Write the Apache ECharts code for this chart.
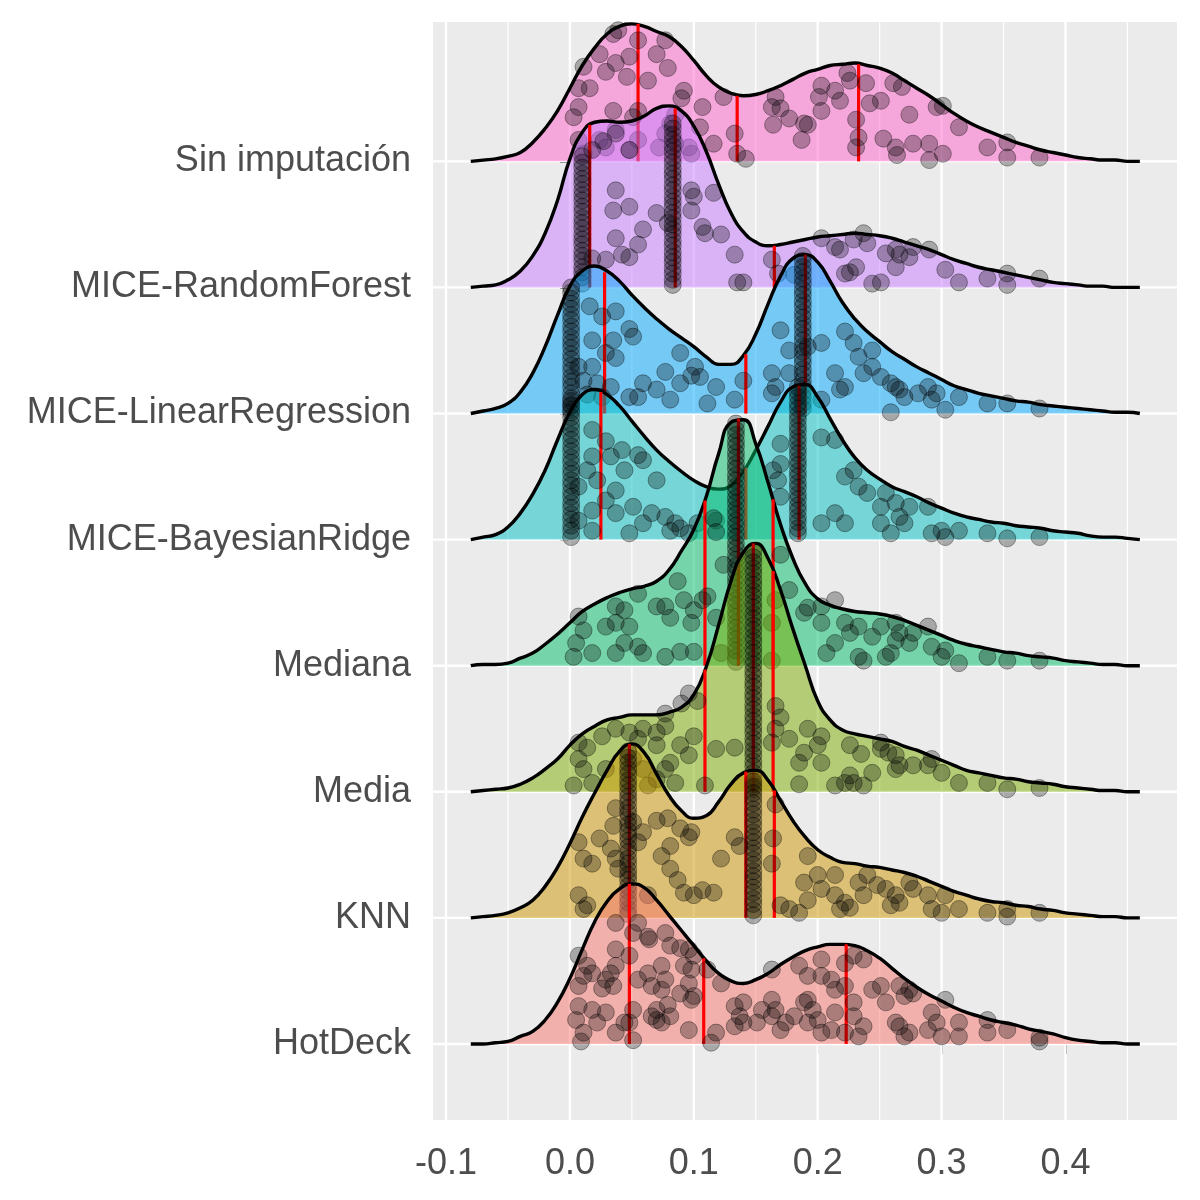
<!DOCTYPE html>
<html>
<head>
<meta charset="utf-8">
<script src="https://cdn.jsdelivr.net/npm/echarts@6/dist/echarts.min.js"></script>
<style>html,body{margin:0;background:#fff}#main{width:1200px;height:1200px}</style>
</head>
<body>
<div id="main"></div>
<script>
// filas de abajo hacia arriba
var categories = ['HotDeck', 'KNN', 'Media', 'Mediana', 'MICE-BayesianRidge', 'MICE-LinearRegression', 'MICE-RandomForest', 'Sin imputación'];
var colors = ['#F8766D', '#CD9600', '#7CAE00', '#00BE67', '#00BFC4', '#00A9FF', '#C77CFF', '#FF61CC'];

var xTicks = [-0.1, 0, 0.1, 0.2, 0.3, 0.4];
var xMinor = [-0.05, 0.05, 0.15, 0.25, 0.35, 0.45];

// rejilla x de las densidades
var xs = [-0.08, -0.07, -0.06, -0.05, -0.04, -0.03, -0.02, -0.01,
  0, 0.01, 0.02, 0.03, 0.04, 0.05, 0.06, 0.07, 0.08, 0.09,
  0.10, 0.11, 0.12, 0.13, 0.14, 0.15, 0.16, 0.17, 0.18, 0.19,
  0.20, 0.21, 0.22, 0.23, 0.24, 0.25, 0.26, 0.27, 0.28, 0.29,
  0.30, 0.31, 0.32, 0.33, 0.34, 0.35, 0.36, 0.37, 0.38, 0.39,
  0.40, 0.41, 0.42, 0.43, 0.44, 0.45, 0.46];

// alturas de densidad (en filas)
var densSin = [0, 0.01, 0.02, 0.04, 0.07, 0.15, 0.26, 0.40,
  0.58, 0.76, 0.90, 1.01, 1.07, 1.09, 1.07, 1.03, 0.99, 0.91,
  0.80, 0.68, 0.59, 0.54, 0.52, 0.53, 0.56, 0.60, 0.65, 0.70,
  0.73, 0.76, 0.77, 0.78, 0.76, 0.74, 0.70, 0.64, 0.58, 0.52,
  0.45, 0.38, 0.32, 0.27, 0.23, 0.19, 0.15, 0.12, 0.09, 0.07,
  0.05, 0.03, 0.02, 0.01, 0.01, 0, 0];
var densForest = [0, 0.01, 0.02, 0.06, 0.13, 0.25, 0.43, 0.69,
  1.02, 1.23, 1.31, 1.32, 1.31, 1.32, 1.36, 1.42, 1.44, 1.40,
  1.28, 1.08, 0.82, 0.59, 0.44, 0.36, 0.33, 0.34, 0.36, 0.38,
  0.40, 0.41, 0.42, 0.43, 0.42, 0.41, 0.39, 0.36, 0.33, 0.30,
  0.26, 0.22, 0.19, 0.16, 0.14, 0.12, 0.10, 0.08, 0.06, 0.04,
  0.03, 0.02, 0.01, 0.01, 0, 0, 0];
var densLinear = [0, 0.02, 0.04, 0.08, 0.17, 0.32, 0.53, 0.78,
  1.01, 1.13, 1.17, 1.13, 1.05, 0.94, 0.84, 0.75, 0.67, 0.60,
  0.53, 0.45, 0.39, 0.39, 0.46, 0.63, 0.87, 1.09, 1.23, 1.26,
  1.20, 1.05, 0.88, 0.75, 0.65, 0.57, 0.49, 0.43, 0.37, 0.32,
  0.27, 0.22, 0.19, 0.16, 0.14, 0.12, 0.10, 0.09, 0.07, 0.06,
  0.05, 0.04, 0.03, 0.02, 0.01, 0.01, 0];
var densBayes = [0, 0.02, 0.04, 0.10, 0.21, 0.36, 0.55, 0.79,
  1.01, 1.15, 1.19, 1.15, 1.06, 0.94, 0.82, 0.71, 0.62, 0.54,
  0.47, 0.42, 0.40, 0.43, 0.54, 0.71, 0.90, 1.09, 1.21, 1.23,
  1.13, 0.96, 0.79, 0.65, 0.55, 0.48, 0.42, 0.38, 0.34, 0.29,
  0.25, 0.21, 0.18, 0.16, 0.14, 0.13, 0.11, 0.10, 0.09, 0.07,
  0.06, 0.05, 0.03, 0.02, 0.02, 0.01, 0];
var densMediana = [0, 0.01, 0.01, 0.02, 0.06, 0.10, 0.17, 0.25,
  0.34, 0.43, 0.49, 0.54, 0.58, 0.61, 0.63, 0.67, 0.76, 0.91,
  1.08, 1.34, 1.68, 1.93, 1.95, 1.76, 1.45, 1.12, 0.85, 0.65,
  0.53, 0.48, 0.45, 0.43, 0.42, 0.41, 0.39, 0.36, 0.32, 0.28,
  0.24, 0.20, 0.17, 0.15, 0.13, 0.11, 0.10, 0.08, 0.07, 0.06,
  0.04, 0.03, 0.02, 0.01, 0.01, 0, 0];
var densMedia = [0, 0.01, 0.02, 0.03, 0.06, 0.11, 0.18, 0.26,
  0.37, 0.46, 0.52, 0.57, 0.59, 0.61, 0.61, 0.61, 0.63, 0.67,
  0.77, 0.99, 1.32, 1.67, 1.90, 1.97, 1.85, 1.60, 1.29, 1.00,
  0.72, 0.57, 0.49, 0.46, 0.44, 0.42, 0.40, 0.36, 0.33, 0.29,
  0.25, 0.21, 0.17, 0.15, 0.13, 0.11, 0.10, 0.08, 0.07, 0.06,
  0.04, 0.03, 0.02, 0.01, 0.01, 0, 0];
var densKNN = [0, 0.01, 0.02, 0.04, 0.08, 0.14, 0.25, 0.40,
  0.59, 0.80, 0.99, 1.17, 1.32, 1.38, 1.31, 1.14, 0.97, 0.85,
  0.79, 0.81, 0.92, 1.06, 1.15, 1.17, 1.09, 0.93, 0.77, 0.64,
  0.54, 0.48, 0.44, 0.43, 0.41, 0.40, 0.38, 0.36, 0.33, 0.29,
  0.25, 0.21, 0.18, 0.15, 0.13, 0.12, 0.10, 0.09, 0.07, 0.06,
  0.04, 0.03, 0.02, 0.01, 0.01, 0, 0];
var densHotDeck = [0, 0, 0.01, 0.02, 0.06, 0.10, 0.19, 0.33,
  0.52, 0.75, 0.97, 1.13, 1.23, 1.27, 1.24, 1.14, 1.02, 0.90,
  0.78, 0.66, 0.56, 0.50, 0.48, 0.51, 0.56, 0.63, 0.69, 0.74,
  0.77, 0.79, 0.79, 0.78, 0.74, 0.68, 0.60, 0.52, 0.45, 0.39,
  0.34, 0.29, 0.25, 0.22, 0.19, 0.17, 0.15, 0.12, 0.10, 0.08,
  0.05, 0.03, 0.02, 0.01, 0.01, 0, 0];

// cuartiles: [x, altura de la curva]
var qSin = [[0.055, 1.09], [0.135, 0.52], [0.233, 0.77]];
var qForest = [[0.016, 1.29], [0.085, 1.42], [0.165, 0.33]];
var qLinear = [[0.028, 1.12], [0.142, 0.47], [0.190, 1.26]];
var qBayes = [[0.025, 1.17], [0.142, 0.57], [0.185, 1.22]];
var qMediana = [[0.109, 1.31], [0.136, 1.96], [0.164, 1.32]];
var qMedia = [[0.109, 0.97], [0.148, 1.97], [0.164, 1.75]];
var qKNN = [[0.048, 1.38], [0.142, 1.16], [0.165, 1.01]];
var qHotDeck = [[0.048, 1.27], [0.108, 0.68], [0.223, 0.79]];

// puntos: [x, altura sobre la linea base]
var ptsSin = [[0.035,1.01],[0.055,0.96],[0.077,0.96],[0.070,0.85],[0.048,0.83],[0.037,0.78],[0.024,0.85],[0.011,0.75],[0.007,0.58],[0.016,0.58],
  [0.029,0.71],[0.046,0.67],[0.063,0.64],[0.079,0.74],[0.092,0.56],[0.090,0.50],[0.107,0.43],[0.124,0.51],[0.116,0.14],[0.133,0.22],
  [0.135,0.06],[0.142,0.02],[0.105,0.27],[0.085,0.37],[0.081,0.30],[0.077,0.22],[0.096,0.11],[0.098,0.06],[0.055,0.40],[0.051,0.35],
  [0.035,0.40],[0.037,0.25],[0.024,0.17],[0.029,0.11],[0.007,0.17],[0.003,0.35],[0.007,0.43],[0.011,0.06],[0.048,0.09],[0.055,0.17],
  [0.072,0.11],[0.085,0.14],[0.163,0.43],[0.166,0.51],[0.170,0.42],[0.164,0.29],[0.177,0.34],[0.189,0.30],[0.192,0.29],[0.187,0.17],
  [0.203,0.60],[0.214,0.56],[0.218,0.48],[0.203,0.40],[0.201,0.51],[0.224,0.70],[0.239,0.62],[0.226,0.64],[0.242,0.46],[0.251,0.48],
  [0.261,0.62],[0.268,0.59],[0.231,0.33],[0.233,0.19],[0.231,0.11],[0.253,0.18],[0.263,0.11],[0.264,0.05],[0.277,0.14],[0.290,0.14],
  [0.290,0.01],[0.301,0.06],[0.296,0.43],[0.301,0.44],[0.314,0.27],[0.274,0.37],[0.337,0.11],[0.353,0.15],[0.353,0.03],[0.379,0.03],[0.039,1.04]];
var ptsForest = [[0.037,0.77],[0.035,0.61],[0.048,0.64],[0.070,0.59],[0.079,0.51],[0.059,0.46],[0.055,0.34],[0.037,0.39],[0.042,0.26],[0.048,0.24],
  [0.029,0.22],[0.018,0.23],[0.098,0.77],[0.100,0.72],[0.116,0.75],[0.098,0.61],[0.107,0.48],[0.109,0.43],[0.122,0.42],[0.133,0.26],
  [0.140,0.04],[0.135,0.04],[0.163,0.22],[0.168,0.11],[0.203,0.39],[0.214,0.32],[0.218,0.30],[0.229,0.38],[0.237,0.43],[0.240,0.35],
  [0.255,0.27],[0.263,0.30],[0.266,0.26],[0.274,0.24],[0.277,0.32],[0.290,0.30],[0.263,0.16],[0.251,0.04],[0.244,0.03],[0.226,0.12],
  [0.231,0.16],[0.222,0.11],[0.303,0.14],[0.314,0.04],[0.337,0.07],[0.353,0.11],[0.353,0.02],[0.379,0.07],[0.181,0.10],
  [0.037,1.22],[0.048,1.09],[0.027,1.16],[0.018,1.09]];
var ptsLinear = [[0.016,0.85],[0.026,0.77],[0.037,0.81],[0.048,0.67],[0.051,0.61],[0.035,0.58],[0.018,0.58],[0.029,0.48],[0.037,0.44],[0.018,0.37],
  [0.007,0.37],[0.011,0.26],[0.022,0.24],[0.033,0.21],[0.014,0.15],[0.026,0.13],[0.048,0.13],[0.059,0.24],[0.055,0.13],[0.070,0.19],
  [0.081,0.11],[0.077,0.33],[0.089,0.48],[0.089,0.24],[0.101,0.37],[0.098,0.30],[0.105,0.29],[0.118,0.21],[0.111,0.08],[0.133,0.11],
  [0.140,0.26],[0.163,0.32],[0.166,0.21],[0.163,0.16],[0.170,0.66],[0.177,0.50],[0.192,0.53],[0.203,0.56],[0.222,0.65],[0.229,0.56],
  [0.244,0.50],[0.233,0.45],[0.237,0.32],[0.251,0.29],[0.259,0.24],[0.266,0.19],[0.270,0.13],[0.281,0.16],[0.289,0.21],[0.292,0.11],
  [0.303,0.03],[0.296,0.16],[0.314,0.13],[0.337,0.08],[0.353,0.08],[0.379,0.04],[0.259,0.01],[0.214,0.32],[0.218,0.19],[0.203,0.11],
  [0.177,0.32],[0.222,0.21],[0.244,0.37],[0.263,0.21]];
var ptsBayes = [[0.018,0.87],[0.029,0.78],[0.033,0.66],[0.042,0.71],[0.055,0.67],[0.018,0.66],[0.014,0.55],[0.022,0.47],[0.037,0.39],[0.029,0.31],
  [0.018,0.23],[0.007,0.15],[0.018,0.07],[0.048,0.05],[0.059,0.13],[0.037,0.21],[0.051,0.26],[0.066,0.21],[0.077,0.18],[0.085,0.13],
  [0.081,0.07],[0.089,0.09],[0.096,0.05],[0.103,0.13],[0.118,0.15],[0.170,0.76],[0.170,0.60],[0.164,0.55],[0.168,0.47],[0.170,0.34],
  [0.203,0.81],[0.214,0.79],[0.203,0.13],[0.222,0.13],[0.214,0.21],[0.222,0.50],[0.229,0.55],[0.233,0.42],[0.240,0.37],[0.255,0.37],
  [0.251,0.26],[0.263,0.29],[0.266,0.18],[0.274,0.26],[0.289,0.26],[0.292,0.05],[0.300,0.07],[0.303,0.02],[0.314,0.07],[0.337,0.05],
  [0.353,0.01],[0.379,0.02],[0.259,0.05],[0.251,0.13],[0.270,0.13],[0.059,0.63],[0.070,0.47],[0.044,0.55],[0.007,0.42]];
var ptsMediana = [[0.007,0.39],[0.011,0.28],[0.005,0.18],[0.018,0.10],[0.003,0.07],[0.037,0.47],[0.044,0.44],[0.037,0.34],[0.029,0.31],[0.048,0.31],
  [0.037,0.10],[0.044,0.18],[0.055,0.57],[0.055,0.15],[0.059,0.10],[0.070,0.47],[0.077,0.47],[0.081,0.38],[0.087,0.67],[0.092,0.52],
  [0.100,0.44],[0.098,0.34],[0.107,0.52],[0.111,0.55],[0.077,0.07],[0.089,0.11],[0.100,0.11],[0.118,0.38],[0.170,0.88],[0.177,0.60],
  [0.166,0.52],[0.163,0.34],[0.189,0.42],[0.192,0.46],[0.203,0.47],[0.203,0.34],[0.214,0.52],[0.222,0.34],[0.226,0.26],[0.233,0.31],
  [0.244,0.23],[0.251,0.31],[0.263,0.34],[0.266,0.26],[0.277,0.26],[0.289,0.31],[0.274,0.18],[0.263,0.20],[0.292,0.15],[0.303,0.12],
  [0.300,0.07],[0.314,0.02],[0.214,0.18],[0.207,0.10],[0.233,0.07],[0.237,0.04],[0.259,0.10],[0.255,0.07],[0.337,0.07],[0.353,0.04],
  [0.379,0.04],[0.122,0.10],[0.163,0.04],[0.116,1.17],[0.118,1.06],[0.124,0.80]];
var ptsMedia = [[0.096,0.78],[0.103,0.72],[0.090,0.70],[0.077,0.62],[0.007,0.39],[0.014,0.35],[0.026,0.44],[0.037,0.50],[0.048,0.47],[0.059,0.50],
  [0.055,0.42],[0.070,0.47],[0.077,0.52],[0.100,0.44],[0.070,0.37],[0.089,0.37],[0.096,0.29],[0.081,0.23],[0.077,0.18],[0.070,0.10],
  [0.007,0.26],[0.011,0.18],[0.018,0.07],[0.003,0.05],[0.029,0.18],[0.051,0.26],[0.059,0.18],[0.063,0.05],[0.085,0.07],[0.109,0.05],
  [0.118,0.34],[0.133,0.35],[0.166,0.68],[0.170,0.59],[0.166,0.50],[0.163,0.39],[0.177,0.42],[0.192,0.50],[0.203,0.44],[0.200,0.37],
  [0.189,0.31],[0.185,0.23],[0.185,0.06],[0.203,0.23],[0.214,0.05],[0.222,0.07],[0.229,0.07],[0.237,0.05],[0.226,0.13],[0.244,0.15],
  [0.226,0.37],[0.235,0.30],[0.251,0.39],[0.257,0.31],[0.263,0.29],[0.266,0.21],[0.277,0.21],[0.289,0.21],[0.292,0.26],[0.300,0.15],
  [0.314,0.07],[0.337,0.07],[0.353,0.02],[0.379,0.03],[0.263,0.18],[0.251,0.34]];
var ptsKNN = [[0.037,0.87],[0.035,0.73],[0.051,0.76],[0.033,0.55],[0.037,0.47],[0.007,0.60],[0.024,0.63],[0.011,0.47],[0.018,0.43],[0.039,0.39],
  [0.055,0.60],[0.059,0.68],[0.070,0.77],[0.079,0.79],[0.089,0.71],[0.098,0.68],[0.096,0.64],[0.081,0.57],[0.074,0.49],[0.081,0.39],
  [0.087,0.30],[0.092,0.20],[0.100,0.18],[0.107,0.22],[0.116,0.20],[0.122,0.47],[0.133,0.64],[0.137,0.57],[0.166,0.90],[0.164,0.63],
  [0.163,0.43],[0.192,0.49],[0.189,0.28],[0.170,0.10],[0.177,0.07],[0.185,0.04],[0.192,0.14],[0.200,0.34],[0.203,0.23],[0.214,0.34],
  [0.214,0.18],[0.222,0.12],[0.218,0.07],[0.226,0.08],[0.233,0.28],[0.240,0.34],[0.237,0.18],[0.248,0.26],[0.255,0.23],[0.259,0.10],
  [0.263,0.18],[0.266,0.12],[0.274,0.28],[0.277,0.23],[0.289,0.18],[0.292,0.07],[0.300,0.04],[0.303,0.18],[0.314,0.07],[0.337,0.04],
  [0.353,0.07],[0.353,0.01],[0.379,0.04],[0.007,0.18],[0.014,0.10],[0.011,0.07],[0.063,0.18]];
var ptsHotDeck = [[0.037,0.62],[0.033,0.56],[0.029,0.51],[0.035,0.46],[0.007,0.70],[0.014,0.62],[0.011,0.54],[0.007,0.46],[0.018,0.56],[0.026,0.44],
  [0.037,0.75],[0.048,0.70],[0.051,0.88],[0.055,0.96],[0.037,0.96],[0.063,0.85],[0.064,0.83],[0.077,0.88],[0.081,0.78],[0.089,0.76],
  [0.096,0.75],[0.100,0.70],[0.092,0.62],[0.098,0.59],[0.111,0.59],[0.096,0.48],[0.089,0.40],[0.077,0.51],[0.074,0.62],[0.055,0.51],
  [0.066,0.46],[0.063,0.56],[0.074,0.43],[0.070,0.27],[0.081,0.22],[0.079,0.31],[0.100,0.38],[0.098,0.35],[0.122,0.48],[0.133,0.30],
  [0.140,0.33],[0.137,0.22],[0.133,0.14],[0.118,0.09],[0.114,0.01],[0.096,0.11],[0.074,0.17],[0.066,0.22],[0.051,0.27],[0.048,0.17],
  [0.037,0.09],[0.044,0.17],[0.029,0.25],[0.018,0.27],[0.022,0.17],[0.007,0.30],[0.005,0.19],[0.011,0.09],[0.009,0.02],[0.051,0.03],
  [0.070,0.19],[0.163,0.35],[0.166,0.27],[0.163,0.22],[0.174,0.17],[0.170,0.11],[0.181,0.22],[0.189,0.33],[0.192,0.35],[0.196,0.27],
  [0.192,0.17],[0.200,0.19],[0.203,0.09],[0.211,0.11],[0.203,0.54],[0.192,0.54],[0.185,0.62],[0.203,0.67],[0.211,0.51],[0.214,0.43],
  [0.222,0.46],[0.229,0.33],[0.229,0.22],[0.237,0.14],[0.233,0.06],[0.222,0.09],[0.214,0.25],[0.222,0.64],[0.229,0.70],[0.237,0.67],
  [0.244,0.43],[0.251,0.46],[0.255,0.33],[0.266,0.46],[0.270,0.38],[0.274,0.43],[0.277,0.40],[0.263,0.17],[0.266,0.14],[0.270,0.06],
  [0.274,0.09],[0.289,0.11],[0.292,0.25],[0.296,0.17],[0.300,0.06],[0.303,0.35],[0.314,0.17],[0.314,0.06],[0.337,0.19],[0.337,0.09],
  [0.353,0.11],[0.379,0.05],[0.379,0.02],[0.140,0.17],[0.151,0.17],[0.155,0.27],[0.163,0.59]];

// columnas de valores repetidos: x y alturas
var stackForest = [
  {x: 0.010, h: [0.03,0.08,0.12,0.16,0.21,0.25,0.29,0.34,0.38,0.42,0.47,0.51,0.55,0.60,0.64,0.69,0.73,0.77,0.82,0.86,0.90,0.95,0.99,1.04]},
  {x: 0.083, h: [0.02,0.06,0.11,0.15,0.20,0.24,0.28,0.33,0.37,0.42,0.46,0.50,0.55,0.59,0.64,0.68,0.72,0.77,0.81,0.86,0.90,0.94,0.99,1.03,1.08,1.12,1.17,1.21,1.26,1.30]}];
var stackLinear = [
  {x: 0.001, h: [0.03,0.07,0.12,0.16,0.21,0.25,0.29,0.34,0.38,0.43,0.47,0.52,0.56,0.60,0.65,0.69,0.74,0.78,0.83,0.87,0.91,0.96,1.00]},
  {x: 0.188, h: [0.04,0.08,0.13,0.17,0.22,0.26,0.31,0.35,0.40,0.44,0.49,0.53,0.58,0.62,0.67,0.71,0.76,0.80,0.85,0.89,0.94,0.98,1.03,1.07,1.12,1.16,1.21,1.25]}];
var stackBayes = [
  {x: 0.001, h: [0.02,0.07,0.11,0.16,0.20,0.25,0.29,0.34,0.38,0.43,0.47,0.52,0.56,0.61,0.65,0.70,0.74,0.79,0.83,0.88,0.92,0.97,1.01,1.06,1.10]},
  {x: 0.184, h: [0.05,0.09,0.14,0.18,0.23,0.27,0.32,0.36,0.41,0.45,0.50,0.54,0.59,0.63,0.68,0.72,0.77,0.81,0.86,0.90,0.95,0.99,1.04,1.08,1.13,1.17,1.21]}];
var stackMediana = [
  {x: 0.134, h: [0.03,0.07,0.12,0.16,0.21,0.25,0.30,0.34,0.39,0.43,0.48,0.52,0.57,0.61,0.66,0.70,0.75,0.79,0.84,0.88,0.93,0.97,1.02,1.06,1.11,1.15,1.20,1.24,1.29,1.33,1.38,1.42,1.47,1.51,1.56,1.60,1.65,1.69,1.74,1.78,1.83,1.87,1.92]}];
var stackMedia = [
  {x: 0.148, h: [0.02,0.06,0.11,0.15,0.20,0.24,0.29,0.33,0.38,0.42,0.47,0.51,0.56,0.60,0.65,0.69,0.74,0.78,0.83,0.87,0.92,0.96,1.01,1.05,1.10,1.14,1.19,1.23,1.28,1.32,1.37,1.41,1.46,1.50,1.55,1.59,1.64,1.68,1.73,1.77,1.82,1.86,1.91]}];
var stackKNN = [
  {x: 0.047, h: [0.03,0.07,0.12,0.16,0.21,0.25,0.30,0.34,0.38,0.43,0.47,0.52,0.56,0.61,0.65,0.69,0.74,0.78,0.83,0.87,0.92,0.96,1.00,1.05,1.09,1.14,1.18,1.23,1.27,1.32]},
  {x: 0.148, h: [0.02,0.06,0.11,0.15,0.20,0.24,0.29,0.33,0.37,0.42,0.46,0.51,0.55,0.60,0.64,0.68,0.73,0.77,0.82,0.86,0.91,0.95,0.99,1.04,1.08]}];
var stackHotDeck = [];
var stackSin = [];

var densities = [densHotDeck, densKNN, densMedia, densMediana, densBayes, densLinear, densForest, densSin];
var quantiles = [qHotDeck, qKNN, qMedia, qMediana, qBayes, qLinear, qForest, qSin];
var points = [ptsHotDeck, ptsKNN, ptsMedia, ptsMediana, ptsBayes, ptsLinear, ptsForest, ptsSin];
var stacks = [stackHotDeck, stackKNN, stackMedia, stackMediana, stackBayes, stackLinear, stackForest, stackSin];

var myChart = echarts.init(document.getElementById('main'));

var rowIdx = categories.map(function (c, i) { return i; });

function vLine(width) {
    return function (params, api) {
        var cs = params.coordSys;
        var px = api.coord([api.value(0), 0])[0];
        return { type: 'line', shape: { x1: px, y1: cs.y, x2: px, y2: cs.y + cs.height },
            style: { stroke: '#ffffff', lineWidth: width } };
    };
}

var series = [
    { type: 'custom', z: 1, silent: true, data: xMinor.map(function (v) { return [v, 0]; }), renderItem: vLine(1.2) },
    { type: 'custom', z: 1, silent: true, data: xTicks.map(function (v) { return [v, 0]; }), renderItem: vLine(2.4) },
    {
        type: 'custom', z: 1, silent: true,
        data: rowIdx.map(function (i) { return [0, i]; }),
        renderItem: function (params, api) {
            var cs = params.coordSys;
            var py = api.coord([0, api.value(1)])[1];
            return { type: 'line', shape: { x1: cs.x, y1: py, x2: cs.x + cs.width, y2: py },
                style: { stroke: '#ffffff', lineWidth: 2.4 } };
        }
    }
];

// de arriba hacia abajo, las filas de abajo tapan a las de arriba
for (var k = categories.length - 1; k >= 0; k--) {
    var z = 10 + (categories.length - 1 - k) * 3;
    series.push({
        type: 'line', name: categories[k], z: z, silent: true,
        data: xs.map(function (x, i) { return [x, k + densities[k][i]]; }),
        smooth: 0.5, showSymbol: false, symbol: 'none',
        lineStyle: { color: '#000000', width: 3.4 },
        areaStyle: { color: colors[k], opacity: 0.5, origin: k }
    });
    series.push({
        type: 'custom', z: z + 1, silent: true,
        data: quantiles[k].map(function (q) { return [q[0], k, k + q[1]]; }),
        renderItem: function (params, api) {
            var p0 = api.coord([api.value(0), api.value(1)]);
            var p1 = api.coord([api.value(0), api.value(2)]);
            return { type: 'line', shape: { x1: p0[0], y1: p0[1], x2: p1[0], y2: p1[1] },
                style: { stroke: '#FF0000', lineWidth: 3.2 } };
        }
    });
    var pts = points[k].map(function (p) { return [p[0], k + p[1]]; });
    stacks[k].forEach(function (s) {
        s.h.forEach(function (h) { pts.push([s.x, k + h]); });
    });
    series.push({
        type: 'scatter', z: z + 2, silent: true, data: pts, symbolSize: 17,
        itemStyle: { color: 'rgba(0,0,0,0.36)', borderColor: 'rgba(0,0,0,0.45)', borderWidth: 1 }
    });
}

myChart.setOption({
    animation: false,
    backgroundColor: '#ffffff',
    textStyle: { fontFamily: 'Liberation Sans, Arial, sans-serif' },
    grid: { left: 433, right: 23, top: 22, bottom: 80, show: true, backgroundColor: '#EBEBEB', borderWidth: 0 },
    xAxis: {
        type: 'value', min: -0.1105, max: 0.49,
        axisLine: { show: false },
        splitLine: { show: false },
        axisTick: { show: true, customValues: xTicks, length: 10, lineStyle: { color: '#333333', width: 2 } },
        axisLabel: {
            customValues: xTicks, margin: 26, color: '#4D4D4D', fontSize: 36,
            formatter: function (v) { return v.toFixed(1); }
        }
    },
    yAxis: {
        type: 'value', min: -0.603, max: 8.105,
        axisLine: { show: false },
        splitLine: { show: false },
        axisTick: { show: true, customValues: rowIdx, length: 10, lineStyle: { color: '#333333', width: 2 } },
        axisLabel: {
            customValues: rowIdx, margin: 22, color: '#4D4D4D', fontSize: 36,
            formatter: function (v) { return categories[Math.round(v)]; }
        }
    },
    series: series
});
</script>
</body>
</html>
